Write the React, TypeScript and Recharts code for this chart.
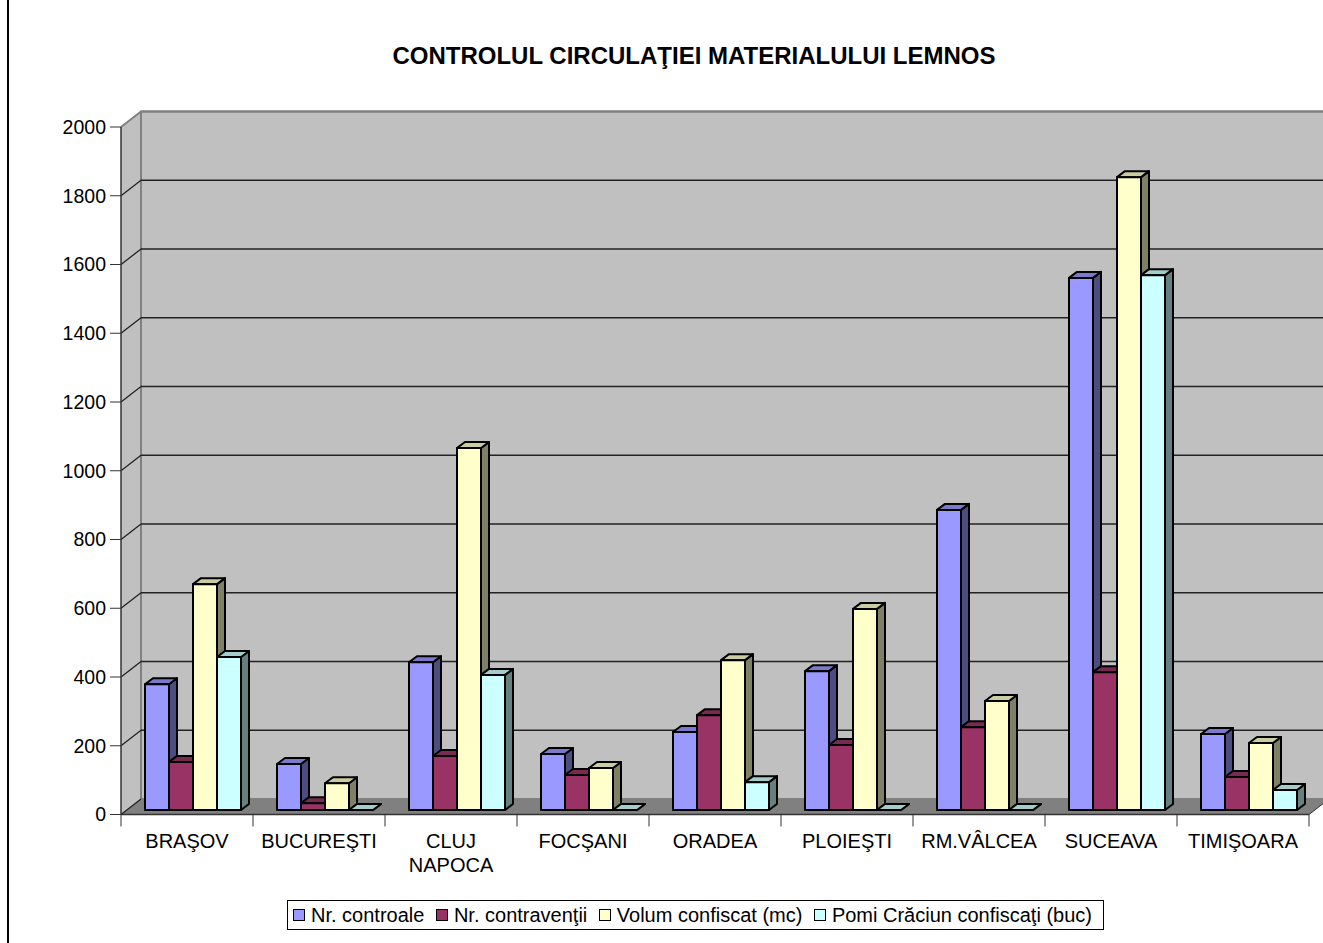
import { Bar, BarChart, CartesianGrid, Legend, XAxis, YAxis } from 'recharts'

const FONT = '"Liberation Sans", Arial, sans-serif'

const CATEGORIES = ['BRAŞOV', 'BUCUREŞTI', 'CLUJ NAPOCA', 'FOCŞANI', 'ORADEA', 'PLOIEŞTI', 'RM.VÂLCEA', 'SUCEAVA', 'TIMIŞOARA']
const CONTROALE = [366, 134, 430, 163, 227, 404, 873, 1548, 221]
const CONTRAVENTII = [140, 20, 157, 102, 276, 189, 241, 401, 96]
const VOLUM = [657, 78, 1053, 122, 436, 585, 317, 1841, 195]
const POMI = [445, 0, 393, 0, 81, 0, 0, 1556, 58]
const SERIES_NAMES = ['Nr. controale', 'Nr. contravenţii', 'Volum confiscat (mc)', 'Pomi Crăciun confiscaţi (buc)']
const Y_TICKS = [0, 200, 400, 600, 800, 1000, 1200, 1400, 1600, 1800, 2000]

const data = CATEGORIES.map((name, i) => ({
  name,
  controale: CONTROALE[i],
  contraventii: CONTRAVENTII[i],
  volum: VOLUM[i],
  pomi: POMI[i],
}))

// plot area = front plane of the 3d box
const LEFT = 121
const RIGHT = 1309
const TOP = 127
const BOTTOM = 814.5
const WALL_DX = 20
const WALL_DY = -15.5
const BAND = (RIGHT - LEFT) / CATEGORIES.length

function shade(hex: string, k: number) {
  const n = parseInt(hex.slice(1), 16)
  const c = [(n >> 16) & 255, (n >> 8) & 255, n & 255].map((v) => Math.round(v * k))
  return `rgb(${c[0]},${c[1]},${c[2]})`
}

// 3d column: front, top and side faces
function Column3D(props: any) {
  const { x, y, width, height, fill } = props
  const fx = x + 6
  const fy = y - 4.5
  const dx = 8
  const dy = -6
  const r = fx + width
  const b = fy + height
  return (
    <g stroke="#000" strokeWidth={2} strokeLinejoin="round">
      <polygon points={`${r},${fy} ${r + dx},${fy + dy} ${r + dx},${b + dy} ${r},${b}`} fill={shade(fill, 0.5)} />
      <polygon points={`${fx},${fy} ${fx + dx},${fy + dy} ${r + dx},${fy + dy} ${r},${fy}`} fill={shade(fill, 0.8)} />
      <rect x={fx} y={fy} width={width} height={height} fill={fill} />
    </g>
  )
}

function GridLine(props: any) {
  const { y1, index } = props
  const isTop = Math.abs(y1 - TOP) < 1
  const isFloor = Math.abs(y1 - BOTTOM) < 1
  const color = isTop ? '#808080' : '#222'
  const w = isTop ? 2 : 1.3
  return (
    <g key={index}>
      <line x1={LEFT} y1={y1} x2={LEFT + WALL_DX} y2={y1 + WALL_DY} stroke={color} strokeWidth={w} />
      {!isFloor && (
        <line x1={LEFT + WALL_DX} y1={y1 + WALL_DY} x2={RIGHT + WALL_DX} y2={y1 + WALL_DY} stroke={color} strokeWidth={w} />
      )}
    </g>
  )
}

function CategoryTick(props: any) {
  const { x, y, payload, index } = props
  const words = String(payload.value).split(' ')
  const tickTop = BOTTOM
  return (
    <g>
      <line x1={x - BAND / 2} y1={tickTop} x2={x - BAND / 2} y2={tickTop + 12} stroke="#333" />
      {index === CATEGORIES.length - 1 && (
        <>
          <line x1={x + BAND / 2} y1={tickTop} x2={x + BAND / 2} y2={tickTop + 12} stroke="#333" />
          <line x1={x + BAND / 2} y1={tickTop} x2={x + BAND / 2 + WALL_DX} y2={tickTop + WALL_DY} stroke="#333" />
        </>
      )}
      <text x={x} y={y} textAnchor="middle" fontFamily={FONT} fontSize={20} fill="#000">
        {words.map((w, i) => (
          <tspan key={w} x={x} y={848 + i * 24}>
            {w}
          </tspan>
        ))}
      </text>
    </g>
  )
}

function BoxLegend({ payload }: any) {
  return (
    <div
      style={{
        boxSizing: 'border-box',
        height: 30,
        border: '1px solid #000',
        background: '#fff',
        display: 'flex',
        alignItems: 'center',
        paddingLeft: 5,
        fontFamily: FONT,
        fontSize: 20,
        color: '#000',
        whiteSpace: 'nowrap',
      }}
    >
      {(payload ?? []).map((item: any) => (
        <span key={item.value} style={{ display: 'flex', alignItems: 'center', marginRight: 11.5 }}>
          <span
            style={{
              boxSizing: 'border-box',
              width: 12,
              height: 12,
              border: '1.5px solid #000',
              background: item.color,
              marginRight: 6,
            }}
          />
          {item.value}
        </span>
      ))}
    </div>
  )
}

export default function App() {
  return (
    <div style={{ position: 'absolute', left: 0, top: 0, width: 1323, height: 943, overflow: 'hidden', background: '#fff' }}>
      <div style={{ position: 'absolute', left: 7, top: 0, width: 2, height: 943, background: '#000' }} />
      {/* pereti si podea, sub grafic */}
      <svg width={1323} height={943} style={{ position: 'absolute', left: 0, top: 0 }}>
        <polygon
          points={`${LEFT},${TOP} ${LEFT + WALL_DX},${TOP + WALL_DY} ${LEFT + WALL_DX},${BOTTOM + WALL_DY} ${LEFT},${BOTTOM}`}
          fill="#c0c0c0"
        />
        <rect x={LEFT + WALL_DX} y={TOP + WALL_DY} width={RIGHT - LEFT} height={BOTTOM - TOP} fill="#c0c0c0" stroke="#808080" strokeWidth={2} />
        <polygon
          points={`${LEFT},${BOTTOM} ${LEFT + WALL_DX},${BOTTOM + WALL_DY} ${RIGHT + WALL_DX},${BOTTOM + WALL_DY} ${RIGHT},${BOTTOM}`}
          fill="#808080"
        />
      </svg>
      <div style={{ position: 'absolute', left: 0, top: 0 }}>
        <BarChart
          width={1323}
          height={943}
          data={data}
          margin={{ top: TOP, right: 1323 - RIGHT, bottom: 943 - BOTTOM - 60, left: LEFT - 60 }}
          barCategoryGap={18}
          barGap={0}
        >
          <text x={694} y={64} textAnchor="middle" fontFamily={FONT} fontSize={24} fontWeight="bold" fill="#000">
            CONTROLUL CIRCULAŢIEI MATERIALULUI LEMNOS
          </text>
          <CartesianGrid horizontal={GridLine} vertical={false} />
          <XAxis
            dataKey="name"
            height={60}
            interval={0}
            tick={CategoryTick}
            tickLine={false}
            axisLine={{ stroke: '#333', strokeWidth: 1.5 }}
          />
          <YAxis
            width={60}
            domain={[0, 2000]}
            ticks={Y_TICKS}
            interval={0}
            tickSize={11}
            tickMargin={4}
            tickLine={{ stroke: '#333' }}
            axisLine={{ stroke: '#333', strokeWidth: 1.5 }}
            tick={{ fontFamily: FONT, fontSize: 19.5, fill: '#000' }}
          />
          <Bar dataKey="controale" name={SERIES_NAMES[0]} fill="#9999ff" shape={Column3D} isAnimationActive={false} />
          <Bar dataKey="contraventii" name={SERIES_NAMES[1]} fill="#993366" shape={Column3D} isAnimationActive={false} />
          <Bar dataKey="volum" name={SERIES_NAMES[2]} fill="#ffffcc" shape={Column3D} isAnimationActive={false} />
          <Bar dataKey="pomi" name={SERIES_NAMES[3]} fill="#ccffff" shape={Column3D} isAnimationActive={false} />
          <Legend
            verticalAlign="middle"
            itemSorter={(item: any) => SERIES_NAMES.indexOf(item.value)}
            content={BoxLegend}
            wrapperStyle={{ top: 900, left: 287, width: 817, height: 30 }}
          />
        </BarChart>
      </div>
    </div>
  )
}
